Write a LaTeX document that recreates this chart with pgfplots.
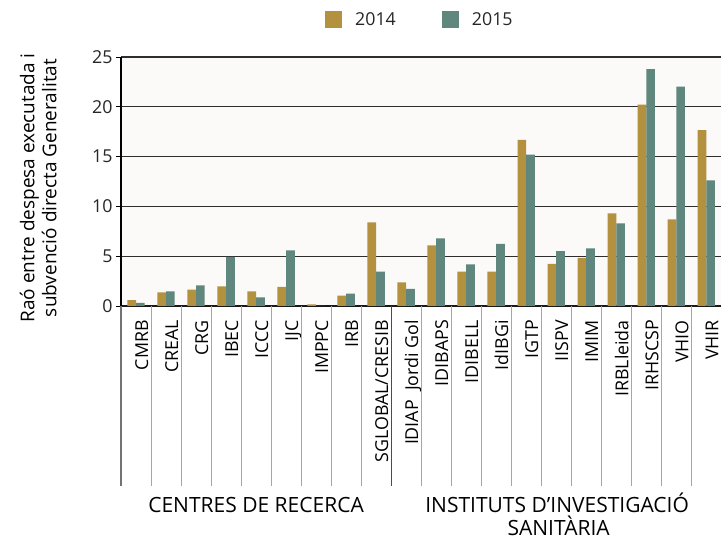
\documentclass[border=0pt]{standalone}
\usepackage{pgfplots}
\pgfplotsset{compat=1.18}
\usepackage{fontspec}
\setmainfont{Open Sans}
\definecolor{cA}{HTML}{B3913F}
\definecolor{cB}{HTML}{5F877D}
\definecolor{bgc}{HTML}{FBFAF8}
\newcommand{\fs}{\fontsize{17.8}{21}\selectfont}
\begin{document}
\begin{tikzpicture}
\path[use as bounding box] (0,0) rectangle (721pt,540pt);
\begin{axis}[
  at={(121pt,234pt)}, anchor=south west,
  scale only axis, width=600pt, height=249pt,
  xmin=-0.5, xmax=19.49, ymin=0, ymax=25,
  ybar=0pt, bar width=8.7pt,
  axis x line=bottom, axis y line=left,
  axis line style={-},
  x axis line style={draw=black!90, line width=1.2pt},
  y axis line style={draw=black, line width=1.6pt},
  axis background/.style={fill=bgc},
  ymajorgrids, major grid style={draw=black!82, line width=1.2pt},
  ytick={0,5,...,25},
  ytick style={draw=black, line width=0.8pt},
  tick align=outside, major tick length=5pt,
  yticklabel style={font=\fs, text=black!85},
  /pgf/number format/assume math mode=true,
  xtick={0,...,19},
  xtick style={draw=none},
  xticklabels={CMRB,CREAL,CRG,IBEC,ICCC,IJC,IMPPC,IRB,SGLOBAL/CRESIB,IDIAP~~Jordi Gol,IDIBAPS,IDIBELL,IdIBGi,IGTP,IISPV,IMIM,IRBLleida,IRHSCSP,VHIO,VHIR},
  xticklabel style={xshift=12pt, yshift=-9pt, rotate=90, anchor=base east, inner sep=0pt, font=\fs, text=black},
  ylabel={Raó entre despesa executada i\\subvenció directa Generalitat},
  every axis y label/.style={at={(axis description cs:-0.138,0.474)}, rotate=90, anchor=center, align=center, font=\fontsize{19}{22}\selectfont, text=black},
  legend style={at={(0.34,1.149)}, anchor=west, draw=none, fill=none, font=\fs, text=black!85, inner sep=0pt,
    legend columns=2,
    /tikz/every odd column/.append style={column sep=11pt},
    /tikz/every even column/.append style={column sep=44pt}},
  legend image code/.code={\fill[#1] (0pt,-8.5pt) rectangle (17pt,8.5pt);},
  clip=false,
]
\addplot[fill=cA, draw=none] coordinates {
(0,0.6) (1,1.37) (2,1.64) (3,1.98) (4,1.47) (5,1.91) (6,0.17) (7,1.04) (8,8.40) (9,2.38)
(10,6.09) (11,3.45) (12,3.45) (13,16.67) (14,4.22) (15,4.82) (16,9.31) (17,20.22) (18,8.70) (19,17.67)};
\addplot[fill=cB, draw=none] coordinates {
(0,0.32) (1,1.47) (2,2.08) (3,4.92) (4,0.87) (5,5.59) (6,0) (7,1.24) (8,3.45) (9,1.71)
(10,6.80) (11,4.19) (12,6.23) (13,15.2) (14,5.52) (15,5.79) (16,8.30) (17,23.77) (18,22.03) (19,12.62)};
\legend{2014,2015}
\pgfplotsinvokeforeach{0.5,1.5,2.5,3.5,4.5,5.5,6.5,7.5,9.5,10.5,11.5,12.5,13.5,14.5,15.5,16.5,17.5,18.5}{
  \draw[black!35, line width=1pt] (axis cs:#1,0) -- ([yshift=-180pt]axis cs:#1,0);
}
\draw[black!55, line width=1.2pt] (axis cs:-0.5,0) -- ([yshift=-180pt]axis cs:-0.5,0);
\draw[black!70, line width=1.2pt] (axis cs:8.5,0) -- ([yshift=-180pt]axis cs:8.5,0);
\node[anchor=base, inner sep=0pt, font=\fontsize{21}{25}\selectfont, text=black] at ([yshift=-207pt]axis cs:4,0) {CENTRES DE RECERCA};
\node[anchor=base, inner sep=0pt, font=\fontsize{21}{25}\selectfont, text=black] at ([yshift=-207pt]axis cs:14.03,0) {INSTITUTS D’INVESTIGACIÓ};
\node[anchor=base, inner sep=0pt, font=\fontsize{21}{25}\selectfont, text=black] at ([yshift=-230pt]axis cs:14.08,0) {SANITÀRIA};
\end{axis}
\end{tikzpicture}
\end{document}
